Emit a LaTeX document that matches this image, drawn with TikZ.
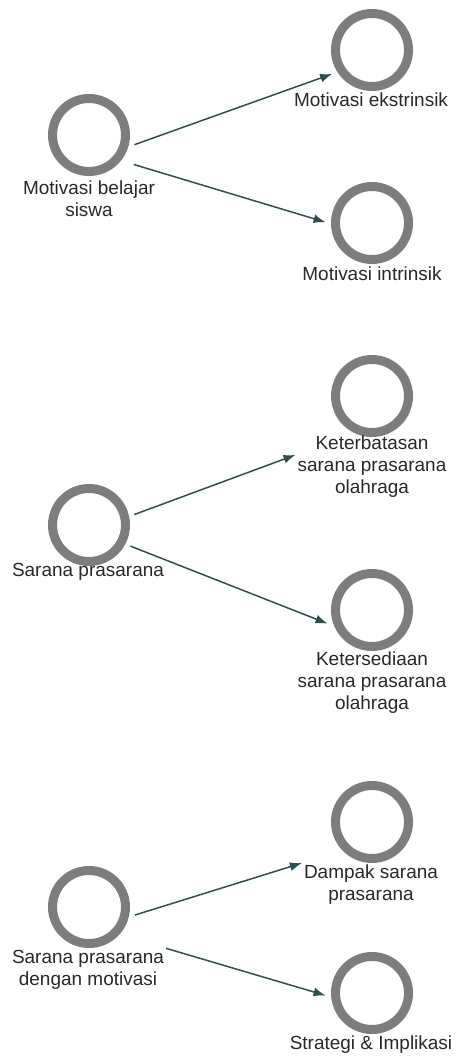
\documentclass[tikz,border=0pt]{standalone}
\usepackage{fontspec}
\setmainfont{Liberation Sans}
\usetikzlibrary{arrows.meta}
\definecolor{ringgray}{RGB}{125,125,125}
\definecolor{arrowteal}{RGB}{45,78,78}
\definecolor{labeltext}{RGB}{40,40,40}
\tikzset{
  concept/.style={circle, draw=ringgray, line width=0.18cm, minimum size=1.46cm, inner sep=0pt, outer sep=0.2cm},
  conceptlabel/.style={align=center, inner sep=1pt, text=labeltext, font=\fontsize{10.8}{12.5}\selectfont},
  link/.style={-{Latex[length=0.24cm,width=0.18cm]}, draw=arrowteal, line width=0.85pt}
}
\begin{document}
\begin{tikzpicture}
\useasboundingbox (0,0) rectangle (9.12,-21.14);
%first block
\node [concept] (mb) at (1.78,-2.70) {};
\node [conceptlabel] (mbl) at (1.78,-3.98) {Motivasi belajar\\siswa};
\node [concept] (me) at (7.44,-1.00) {};
\node [conceptlabel] (mel) at (7.42,-2.00) {Motivasi ekstrinsik};
\node [concept] (mi) at (7.44,-4.46) {};
\node [conceptlabel] (mil) at (7.44,-5.48) {Motivasi intrinsik};
\draw [link] (mb.-12) -- (me.211);
\draw [link, shorten <=0.15cm] (mb.-36) -- (mi.179);

%second block
\node [concept] (sp) at (1.78,-10.50) {};
\node [conceptlabel] (spl) at (1.76,-11.44) {Sarana prasarana};
\node [concept] (kb) at (7.44,-7.92) {};
\node [conceptlabel] (kbl) at (7.44,-9.34) {Keterbatasan\\sarana prasarana\\olahraga};
\node [concept] (ks) at (7.44,-12.20) {};
\node [conceptlabel] (ksl) at (7.44,-13.66) {Ketersediaan\\sarana prasarana\\olahraga};
\draw [link] (sp.13) -- (kbl.171);
\draw [link] (sp.-27) -- (ks.197);

%third block
\node [concept] (sm) at (1.78,-18.14) {};
\node [conceptlabel] (sml) at (1.76,-19.40) {Sarana prasarana\\dengan motivasi};
\node [concept] (dp) at (7.44,-16.44) {};
\node [conceptlabel] (dpl) at (7.42,-17.70) {Dampak sarana\\prasarana};
\node [concept] (si) at (7.44,-19.86) {};
\node [conceptlabel] (sil) at (7.42,-20.90) {Strategi \& Implikasi};
\draw [link] (sm.-10) -- (dpl.north west);
\draw [link] (sml.north east) -- (si.183);
\end{tikzpicture}
\end{document}
